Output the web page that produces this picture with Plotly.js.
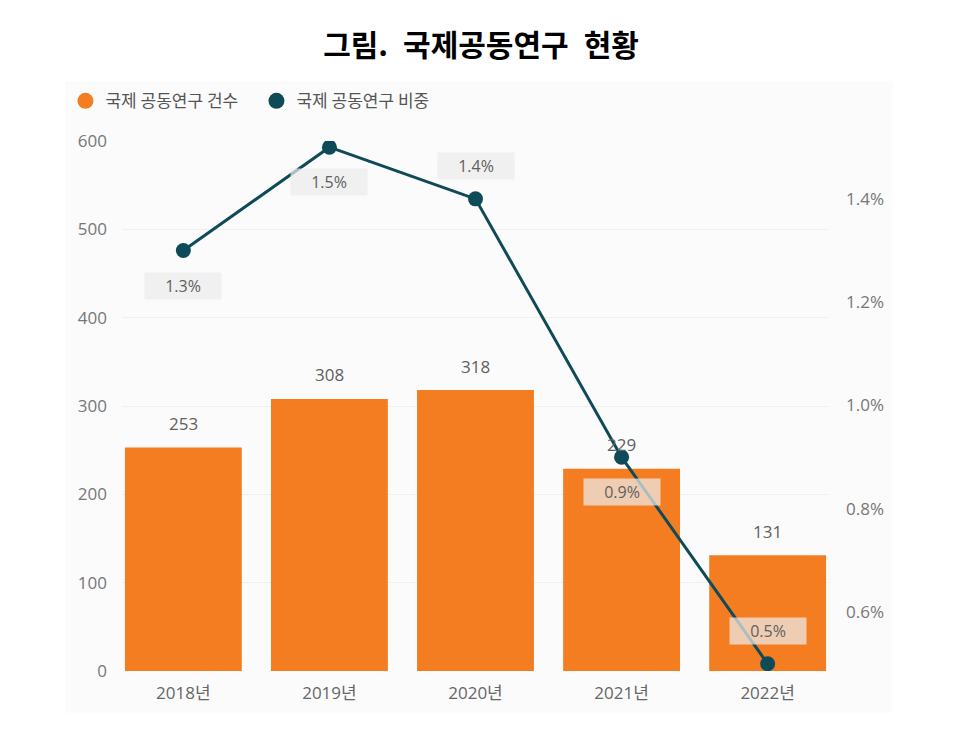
<!DOCTYPE html>
<html>
<head>
<meta charset="utf-8">
<script src="https://cdn.plot.ly/plotly-3.0.1.min.js"></script>
<style>
html,body{margin:0;padding:0;background:#fff;}
#chart{width:975px;height:734px;}
</style>
</head>
<body>
<div id="chart"></div>
<script>
// ---- data ----
const years = ['2018년', '2019년', '2020년', '2021년', '2022년'];
const counts = [253, 308, 318, 229, 131];
const shares = [1.3, 1.5, 1.4, 0.9, 0.5];
const countName = '국제 공동연구 건수';
const shareName = '국제 공동연구 비중';
const titleText = '그림.\u2002국제공동연구\u2002현황';
const leftTicks = [0, 100, 200, 300, 400, 500, 600];
const rightTicks = [0.6, 0.8, 1.0, 1.2, 1.4];

// ---- style ----
const ORANGE = '#F47D22';
const TEAL = '#0E4A58';
const FONT = '"Open Sans", "Noto Sans CJK KR", sans-serif';
const labelBelow = [true, true, false, true, false];

const traces = [
  {type: 'bar', x: years, y: counts, marker: {color: ORANGE}, showlegend: false, hoverinfo: 'skip', yaxis: 'y'},
  {type: 'scatter', mode: 'lines+markers', x: years, y: shares, yaxis: 'y2',
   line: {color: TEAL, width: 3}, marker: {color: TEAL, size: 15}, showlegend: false, hoverinfo: 'skip'},
  // legend entries (circle symbols)
  {type: 'scatter', mode: 'markers', x: [null], y: [null], name: countName, marker: {color: ORANGE, size: 18, symbol: 'circle'}, yaxis: 'y'},
  {type: 'scatter', mode: 'markers', x: [null], y: [null], name: shareName, marker: {color: TEAL, size: 18, symbol: 'circle'}, yaxis: 'y'}
];

const annotations = [];
years.forEach((yr, i) => {
  annotations.push({
    x: yr, y: counts[i], xref: 'x', yref: 'y', yanchor: 'middle', yshift: 24,
    text: String(counts[i]), showarrow: false,
    font: {family: FONT, size: 17, color: '#606060'}
  });
  annotations.push({
    x: yr, y: shares[i], xref: 'x', yref: 'y2', yanchor: 'middle',
    yshift: labelBelow[i] ? -35 : 33,
    text: shares[i].toFixed(1) + '%', showarrow: false,
    bgcolor: 'rgba(236,236,236,0.72)', borderpad: 3, width: 70, height: 20,
    font: {family: FONT, size: 16, color: '#606060'}
  });
});

const layout = {
  width: 975, height: 734,
  margin: {l: 122, r: 146, t: 141, b: 63},
  paper_bgcolor: '#ffffff', plot_bgcolor: 'rgba(0,0,0,0)',
  font: {family: FONT, color: '#666'},
  title: {text: titleText, x: 481/975, xanchor: 'center', xref: 'container',
          y: 1 - 45/734, yanchor: 'middle', yref: 'container',
          font: {family: '"Noto Sans CJK KR", sans-serif', size: 30, color: '#000', weight: 'bold'}},
  bargap: 0.2,
  xaxis: {type: 'category', range: [-0.42, 4.42], showgrid: false, zeroline: false, showline: false,
          ticks: '', ticklabelstandoff: 10, tickfont: {family: FONT, size: 17, color: '#666'}, fixedrange: true},
  yaxis: {range: [0, 600], tickmode: 'array', tickvals: leftTicks, ticktext: leftTicks.map(String),
          showgrid: true, gridcolor: '#efefef', gridwidth: 1,
          zeroline: false, showline: false, ticks: '', ticklabelstandoff: 14,
          tickfont: {family: FONT, size: 17, color: '#777'}},
  yaxis2: {overlaying: 'y', side: 'right', range: [0.486, 1.512], tickmode: 'array', tickvals: rightTicks,
           ticktext: rightTicks.map(v => v.toFixed(1) + '%'), showgrid: false, zeroline: false, showline: false, ticks: '',
           ticklabelstandoff: 16, tickfont: {family: FONT, size: 17, color: '#777'}},
  legend: {orientation: 'h', x: -0.08, xanchor: 'left', y: 1.075, yanchor: 'middle',
           font: {family: '"Noto Sans CJK KR", sans-serif', size: 17, color: '#555'},
           itemwidth: 30, entrywidth: 146, entrywidthmode: 'pixels',
           tracegroupgap: 0, bgcolor: 'rgba(0,0,0,0)', traceorder: 'normal'},
  shapes: [{type: 'rect', xref: 'paper', yref: 'paper', layer: 'below',
            x0: -0.0806, x1: 1.0905, y0: -0.079, y1: 1.113, line: {width: 0}, fillcolor: '#fbfbfb'}],
  annotations: annotations
};

Plotly.newPlot('chart', traces, layout, {displayModeBar: false, staticPlot: true});
</script>
</body>
</html>
